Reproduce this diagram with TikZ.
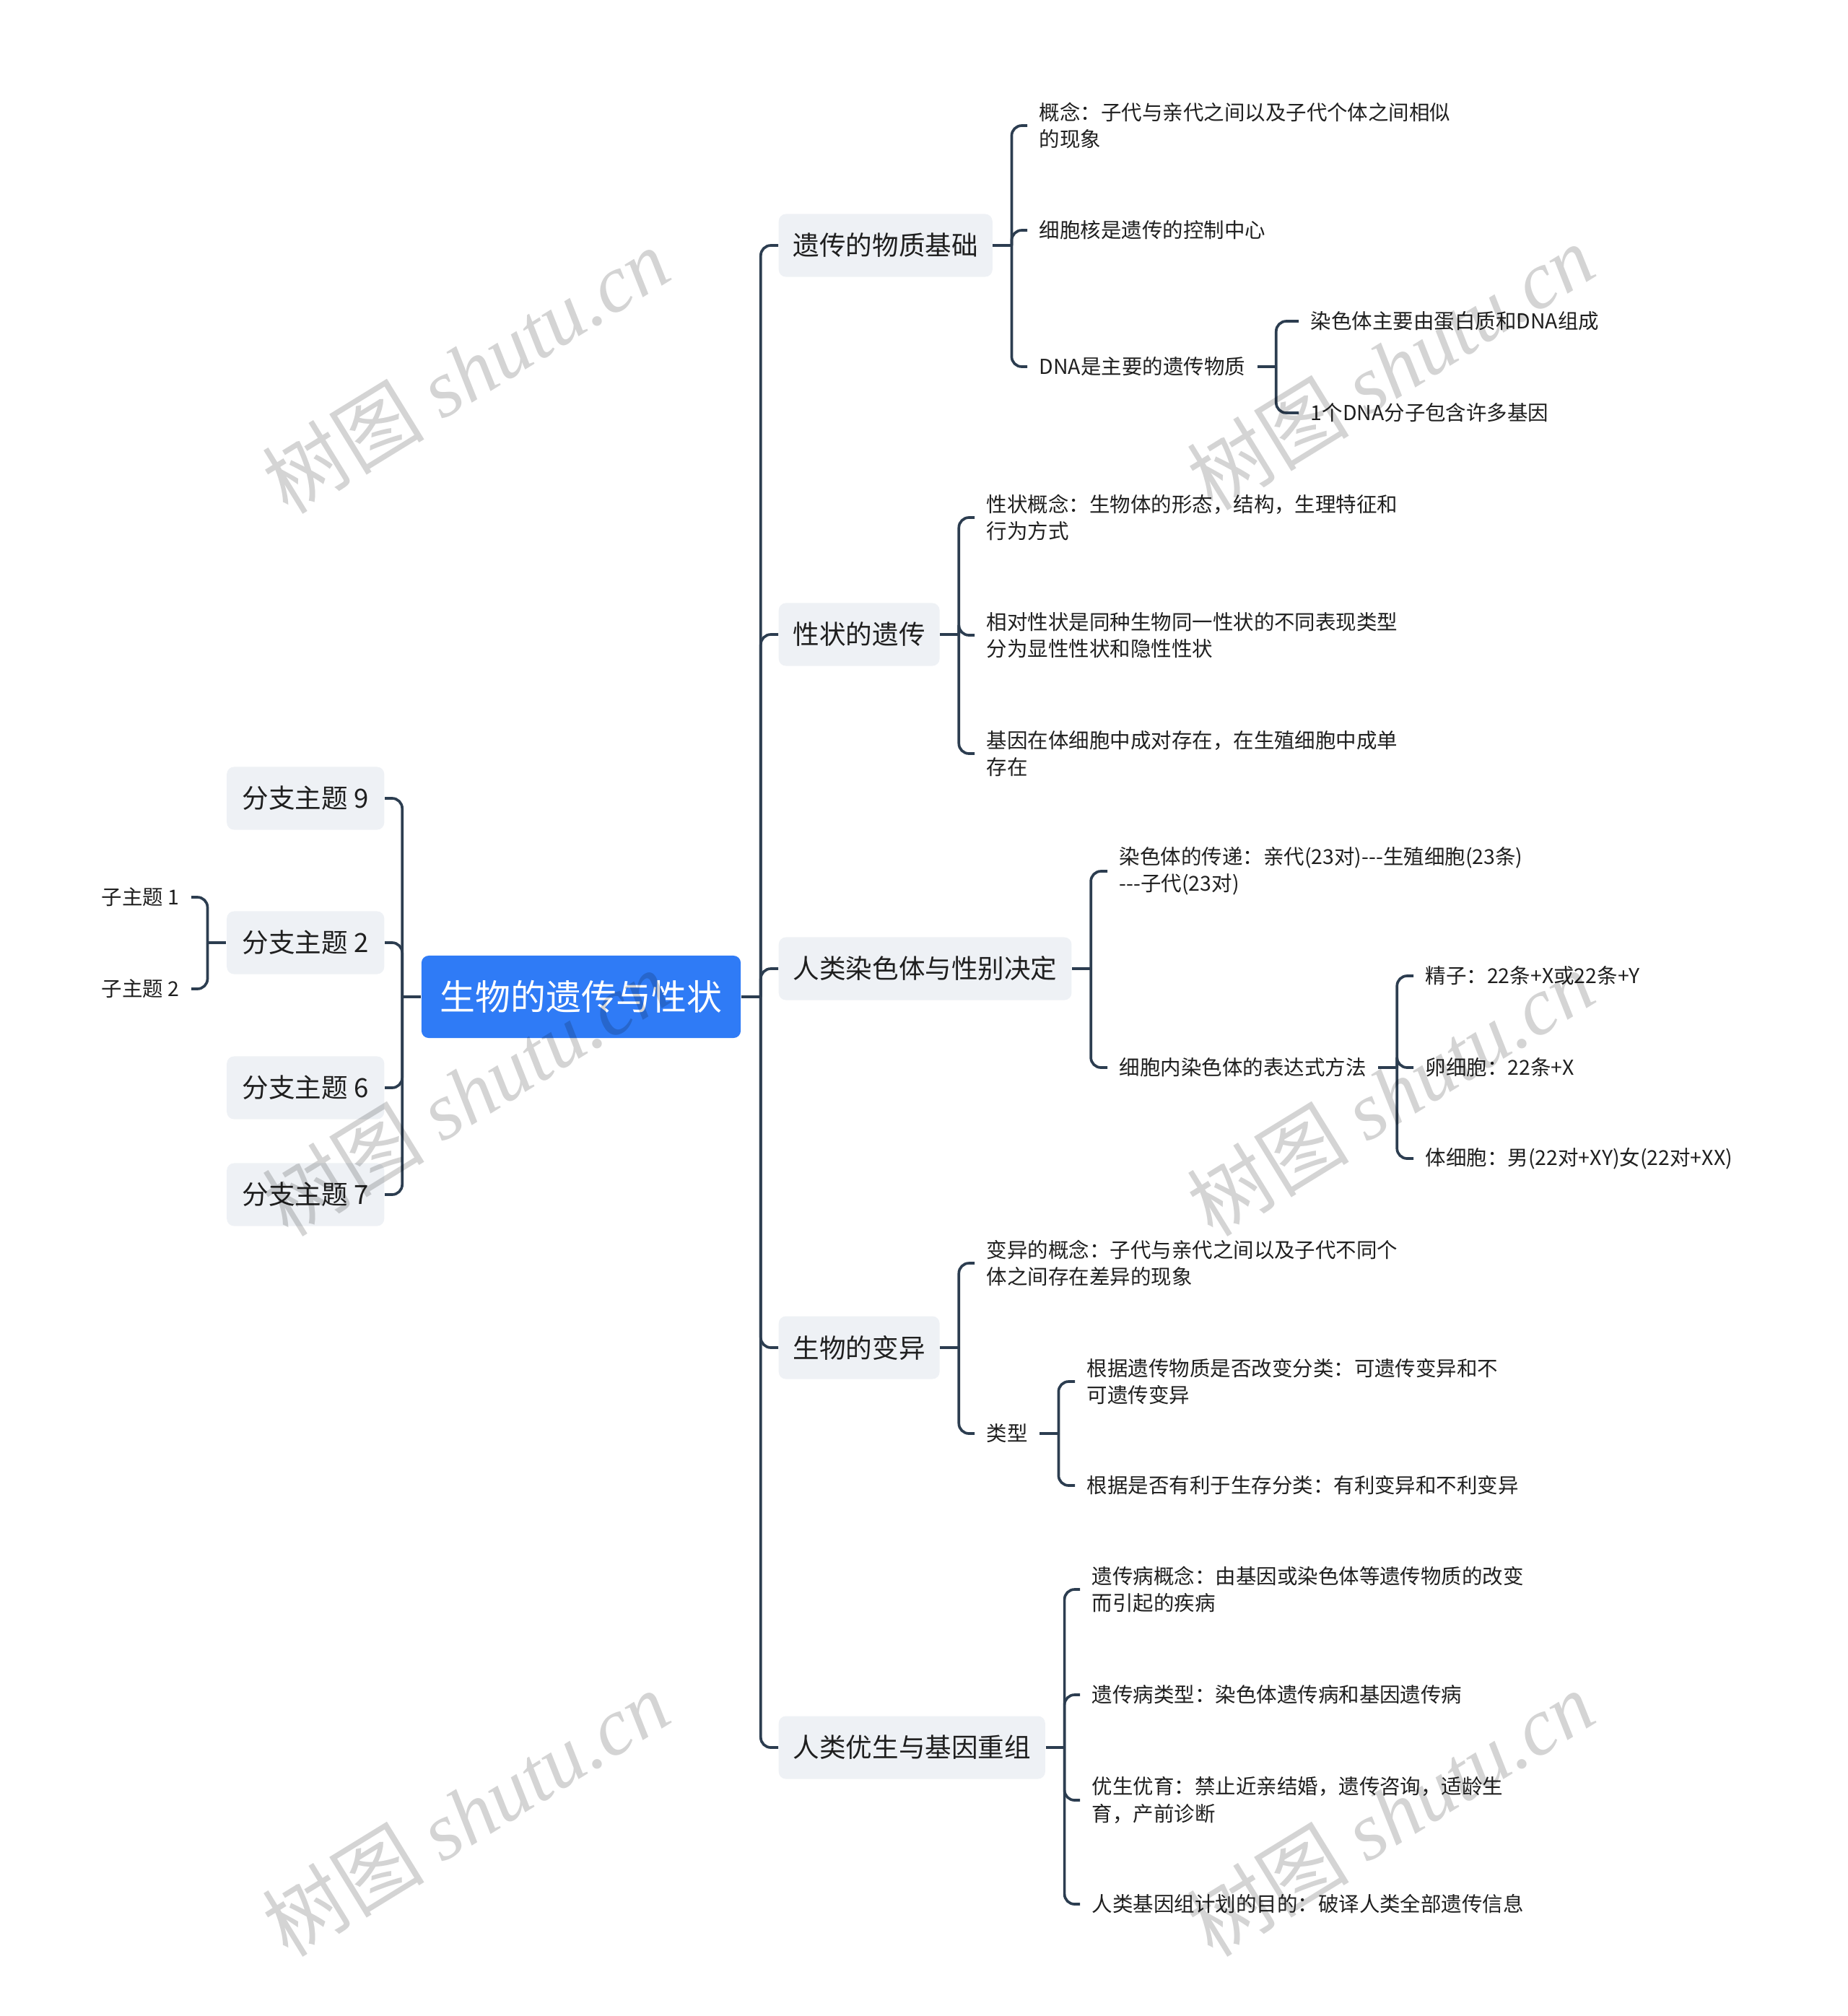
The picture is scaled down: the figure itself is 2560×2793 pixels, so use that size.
\documentclass[tikz,border=0pt]{standalone}
\usepackage{fontspec}
\setmainfont{Noto Sans CJK SC}
\newfontfamily\wmserif{Liberation Serif}
\usetikzlibrary{calc}
\definecolor{lineC}{HTML}{2C3D50}
\definecolor{centerC}{HTML}{2F7BF6}
\definecolor{boxC}{HTML}{EEF1F5}
\definecolor{txtC}{HTML}{1F1F1F}
\begin{document}
\begin{tikzpicture}[x=0.01cm,y=-0.01cm,
  rootnode/.style={fill=centerC,rounded corners=0.1cm,text=white,
    font=\fontsize{13.9pt}{16pt}\selectfont,minimum width=4.42cm,minimum height=1.14cm,inner sep=0pt},
  mainnode/.style={fill=boxC,rounded corners=0.1cm,text=txtC,anchor=west,
    font=\fontsize{10.4pt}{13pt}\selectfont,minimum height=0.87cm,inner xsep=0.2cm,inner ysep=0pt},
  mainL/.style={mainnode,anchor=east,minimum width=2.18cm},
  leafnode/.style={anchor=west,inner xsep=0.16cm,inner ysep=0.05cm,align=left,text=txtC,
    font=\fontsize{8.1pt}{10.6pt}\selectfont},
  leafL/.style={leafnode,anchor=east},
  conn/.style={draw=lineC,line width=1.05pt},
  elbow/.style={conn,rounded corners=0.14cm},
  wm/.style={text=black,text opacity=0.17,font=\fontsize{32pt}{36pt}\selectfont,inner sep=0pt}
]
\useasboundingbox (0,0) rectangle (2560,2793);

% root
\node[rootnode] (root) at (805,1381) {生物的遗传与性状};

% right main branches
\node[mainnode] (m1) at (1078,340) {遗传的物质基础};
\node[mainnode] (m2) at (1078,879) {性状的遗传};
\node[mainnode] (m3) at (1078,1342) {人类染色体与性别决定};
\node[mainnode] (m4) at (1078,1867) {生物的变异};
\node[mainnode] (m5) at (1078,2421) {人类优生与基因重组};

% left branches
\node[mainL] (b9) at (533,1106) {分支主题 9};
\node[mainL] (b2) at (533,1306) {分支主题 2};
\node[mainL] (b6) at (533,1507) {分支主题 6};
\node[mainL] (b7) at (533,1655) {分支主题 7};
\node[leafL] (s1) at (265,1243) {子主题 1};
\node[leafL] (s2) at (265,1370) {子主题 2};

% leaves of m1
\node[leafnode] (l11) at (1423,174) {概念：子代与亲代之间以及子代个体之间相似\\的现象};
\node[leafnode] (l12) at (1423,319) {细胞核是遗传的控制中心};
\node[leafnode] (l13) at (1423,508) {DNA是主要的遗传物质};
\node[leafnode] (l131) at (1799,445) {染色体主要由蛋白质和DNA组成};
\node[leafnode] (l132) at (1799,572) {1个DNA分子包含许多基因};

% leaves of m2
\node[leafnode] (l21) at (1350,717) {性状概念：生物体的形态，结构，生理特征和\\行为方式};
\node[leafnode] (l22) at (1350,880) {相对性状是同种生物同一性状的不同表现类型\\分为显性性状和隐性性状};
\node[leafnode] (l23) at (1350,1044) {基因在体细胞中成对存在，在生殖细胞中成单\\存在};

% leaves of m3
\node[leafnode] (l31) at (1534,1207) {染色体的传递：亲代(23对)-{}-{}-生殖细胞(23条)\\-{}-{}-子代(23对)};
\node[leafnode] (l32) at (1534,1479) {细胞内染色体的表达式方法};
\node[leafnode] (l321) at (1958,1352) {精子：22条+X或22条+Y};
\node[leafnode] (l322) at (1958,1479) {卵细胞：22条+X};
\node[leafnode] (l323) at (1958,1605) {体细胞：男(22对+XY)女(22对+XX)};

% leaves of m4
\node[leafnode] (l41) at (1350,1750) {变异的概念：子代与亲代之间以及子代不同个\\体之间存在差异的现象};
\node[leafnode] (l42) at (1350,1986) {类型};
\node[leafnode] (l421) at (1489,1914) {根据遗传物质是否改变分类：可遗传变异和不\\可遗传变异};
\node[leafnode] (l422) at (1489,2058) {根据是否有利于生存分类：有利变异和不利变异};

% leaves of m5
\node[leafnode] (l51) at (1496,2202) {遗传病概念：由基因或染色体等遗传物质的改变\\而引起的疾病};
\node[leafnode] (l52) at (1496,2348) {遗传病类型：染色体遗传病和基因遗传病};
\node[leafnode] (l53) at (1496,2494) {优生优育：禁止近亲结婚，遗传咨询，适龄生\\育，产前诊断};
\node[leafnode] (l54) at (1496,2638) {人类基因组计划的目的：破译人类全部遗传信息};

% connectors: root right
\draw[conn] (root.east) -- ++(27,0) coordinate (sR);
\foreach \n in {m1,m2,m3,m4,m5} \draw[elbow] (sR) |- (\n.west);
% root left
\draw[conn] (root.west) -- ++(-26,0) coordinate (sL);
\foreach \n in {b9,b2,b6,b7} \draw[elbow] (sL) |- (\n.east);
\draw[conn] (b2.west) -- ++(-26,0) coordinate (sB2);
\foreach \n in {s1,s2} \draw[elbow] (sB2) |- (\n.east);

% m1
\draw[conn] (m1.east) -- ++(26,0) coordinate (sM1);
\foreach \n in {l11,l12,l13} \draw[elbow] (sM1) |- (\n.west);
\draw[conn] (l13.east) -- ++(26,0) coordinate (sL13);
\foreach \n in {l131,l132} \draw[elbow] (sL13) |- (\n.west);
% m2
\draw[conn] (m2.east) -- ++(26,0) coordinate (sM2);
\foreach \n in {l21,l22,l23} \draw[elbow] (sM2) |- (\n.west);
% m3
\draw[conn] (m3.east) -- ++(26,0) coordinate (sM3);
\foreach \n in {l31,l32} \draw[elbow] (sM3) |- (\n.west);
\draw[conn] (l32.east) -- ++(26,0) coordinate (sL32);
\foreach \n in {l321,l322,l323} \draw[elbow] (sL32) |- (\n.west);
% m4
\draw[conn] (m4.east) -- ++(26,0) coordinate (sM4);
\foreach \n in {l41,l42} \draw[elbow] (sM4) |- (\n.west);
\draw[conn] (l42.east) -- ++(26,0) coordinate (sL42);
\foreach \n in {l421,l422} \draw[elbow] (sL42) |- (\n.west);
% m5
\draw[conn] (m5.east) -- ++(26,0) coordinate (sM5);
\foreach \n in {l51,l52,l53,l54} \draw[elbow] (sM5) |- (\n.west);

% watermarks
\foreach \px/\py [count=\i] in {645/513,1926/508,645/1514,1926/1514,645/2512,1926/2512}
  \node[wm,rotate=31.6] (wm\i) at (\px,\py) {树图 {\wmserif\itshape shutu.cn}};
\end{tikzpicture}
\end{document}
